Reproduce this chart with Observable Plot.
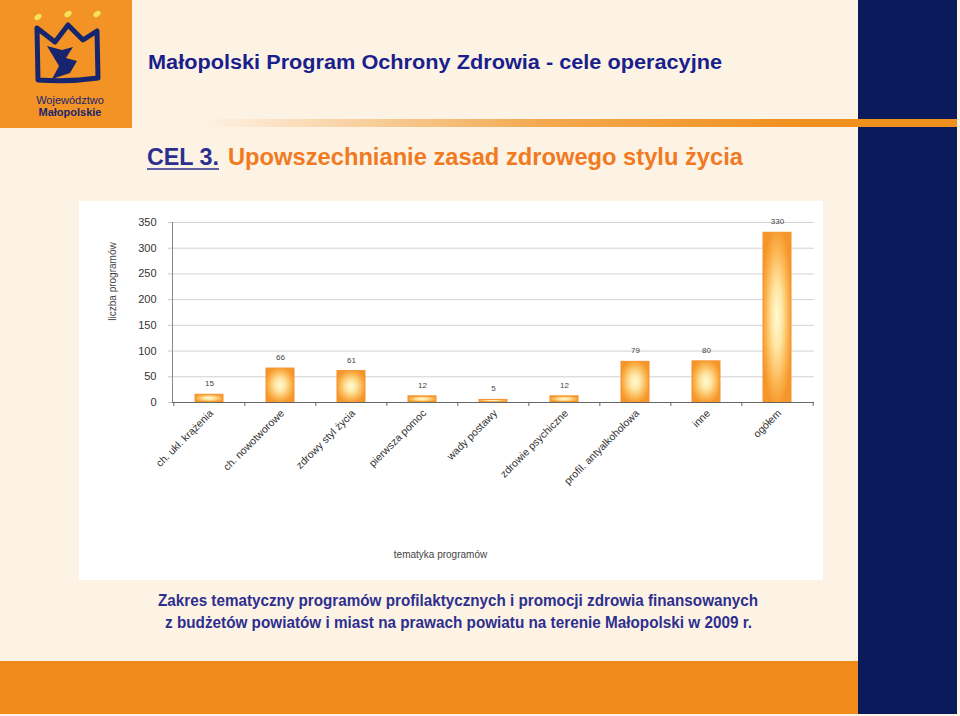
<!DOCTYPE html>
<html><head><meta charset="utf-8">
<script src="https://cdn.jsdelivr.net/npm/d3@7"></script>
<script src="https://cdn.jsdelivr.net/npm/@observablehq/plot@0.6"></script>
<style>
body{margin:0;background:#fdf3e5;width:960px;height:716px;overflow:hidden;position:relative;font-family:"Liberation Sans",Arial,sans-serif}
#deco{position:absolute;left:0;top:0}
#chart{position:absolute;left:79px;top:201px;width:744px;height:379px;background:#fff}
</style></head><body>
<svg id="deco" width="960" height="716" font-family="Liberation Sans, Arial, sans-serif">
  <defs>
    <linearGradient id="lineGrad" x1="0" x2="1" y1="0" y2="0">
      <stop offset="0" stop-color="#f0901e" stop-opacity="0"/>
      <stop offset="0.45" stop-color="#f0901e" stop-opacity="0.75"/>
      <stop offset="0.8" stop-color="#f0901e" stop-opacity="1"/>
    </linearGradient>
    <radialGradient id="barGrad" cx="0.5" cy="0.5" r="0.55">
      <stop offset="0" stop-color="#fffbd6"/>
      <stop offset="0.35" stop-color="#fee5a2"/>
      <stop offset="0.75" stop-color="#fbb24c"/>
      <stop offset="1" stop-color="#f5962a"/>
    </radialGradient>
  </defs>
  <rect x="0" y="0" width="960" height="716" fill="#fdf3e5"/>
  <rect x="858" y="0" width="99" height="714" fill="#0b1a5b"/>
  <rect x="200" y="119" width="757" height="8" fill="url(#lineGrad)"/>
  <rect x="0" y="661" width="858" height="53" fill="#f08a1a"/>
  <!-- logo -->
  <rect x="0" y="0" width="132" height="128" fill="#f39325"/>
  <ellipse cx="38" cy="17" rx="4" ry="2.6" transform="rotate(-35 38 17)" fill="#f3e35a"/>
  <ellipse cx="68" cy="14" rx="4" ry="2.6" transform="rotate(-35 68 14)" fill="#f3e35a"/>
  <ellipse cx="97" cy="14" rx="4" ry="2.6" transform="rotate(-35 97 14)" fill="#f3e35a"/>
  <path d="M37,28 L55,42 L68,25 L83,40 L97,31 L98,78 Q70,82 38,80 Z" fill="none" stroke="#17256e" stroke-width="5" stroke-linejoin="round"/>
  <path d="M47,46 L62,50 L73,47 L66,58 L77,61 L70,73 L52,79 L59,66 Z" fill="#17256e"/>
  <text x="70" y="104" font-size="11" fill="#17256e" text-anchor="middle">Województwo</text>
  <text x="70" y="116" font-size="11" font-weight="bold" fill="#17256e" text-anchor="middle">Małopolskie</text>
  <!-- titles -->
  <text x="148" y="69" font-size="20" font-weight="bold" fill="#1a1f8c" textLength="574" lengthAdjust="spacingAndGlyphs">Małopolski Program Ochrony Zdrowia - cele operacyjne</text>
  <text x="147" y="165" font-size="24" font-weight="bold" fill="#2b2f8f" textLength="72" lengthAdjust="spacingAndGlyphs">CEL 3.</text>
  <line x1="147" x2="219" y1="169" y2="169" stroke="#2b2f8f" stroke-width="1.6"/>
  <text x="228" y="165" font-size="24" font-weight="bold" fill="#f07a22" textLength="515" lengthAdjust="spacingAndGlyphs">Upowszechnianie zasad zdrowego stylu życia</text>
  <!-- caption -->
  <text x="158" y="606" font-size="16" font-weight="bold" fill="#2e2f8e" textLength="600" lengthAdjust="spacingAndGlyphs">Zakres tematyczny programów profilaktycznych i promocji zdrowia finansowanych</text>
  <text x="165" y="628" font-size="16" font-weight="bold" fill="#2e2f8e" textLength="587" lengthAdjust="spacingAndGlyphs">z budżetów powiatów i miast na prawach powiatu na terenie Małopolski w 2009 r.</text>
</svg>
<div id="chart"></div>
<script>
const categories = ["ch. ukł. krążenia","ch. nowotworowe","zdrowy styl życia","pierwsza pomoc","wady postawy","zdrowie psychiczne","profil. antyalkoholowa","inne","ogółem"];
const values = [15, 66, 61, 12, 5, 12, 79, 80, 330];
const yTicks = [0, 50, 100, 150, 200, 250, 300, 350];
const xTitle = "tematyka programów";
const yTitle = "liczba programów";

const data = categories.map((c, i) => ({category: c, value: values[i]}));
const W = 744, H = 379, ML = 93, MR = 9, MT = 21, MB = 178;
const step = (W - ML - MR) / categories.length;

const plot = Plot.plot({
  width: W, height: H,
  marginLeft: ML, marginRight: MR, marginTop: MT, marginBottom: MB,
  style: {fontFamily: "Liberation Sans, Arial, sans-serif", background: "transparent", color: "#333"},
  x: {domain: categories, paddingInner: 0.6, paddingOuter: 0.3, label: null},
  y: {domain: [0, 350], ticks: yTicks, label: null},
  marks: [
    Plot.gridY(yTicks.filter(t => t > 0), {stroke: "#d2d2d2", strokeOpacity: 1}),
    Plot.axisY(yTicks, {tickSize: 4, tickPadding: 12, fontSize: 11, stroke: "#c8c8c8", fill: "#333", label: null}),
    Plot.barY(data, {x: "category", y: "value", fill: "url(#barGrad)", stroke: "#f3922a", strokeWidth: 1}),
    Plot.text(data, {x: "category", y: "value", text: d => String(d.value), dy: -11, fontSize: 8, fill: "#444"}),
    Plot.frame({anchor: "left", stroke: "#888"}),
    Plot.ruleY([0], {stroke: "#666"}),
    Plot.ruleX(categories, {x: d => d, dx: -step / 2, y1: 0, y2: 0, insetBottom: -4, stroke: "#666"}),
    Plot.ruleX([categories[categories.length - 1]], {x: d => d, dx: step / 2, y1: 0, y2: 0, insetBottom: -4, stroke: "#666"}),
    Plot.axisX({tickRotate: -45, tickSize: 0, tickPadding: 9, dx: 2, fontSize: 10.5, fill: "#333", label: null}),
    Plot.text([xTitle], {frameAnchor: "bottom", dx: -53, dy: 155, fontSize: 10, fill: "#444"}),
    Plot.text([yTitle], {frameAnchor: "left", textAnchor: "middle", rotate: -90, dx: -60, dy: -31, fontSize: 10, fill: "#444"})
  ]
});
document.getElementById("chart").appendChild(plot);
</script>
</body></html>
